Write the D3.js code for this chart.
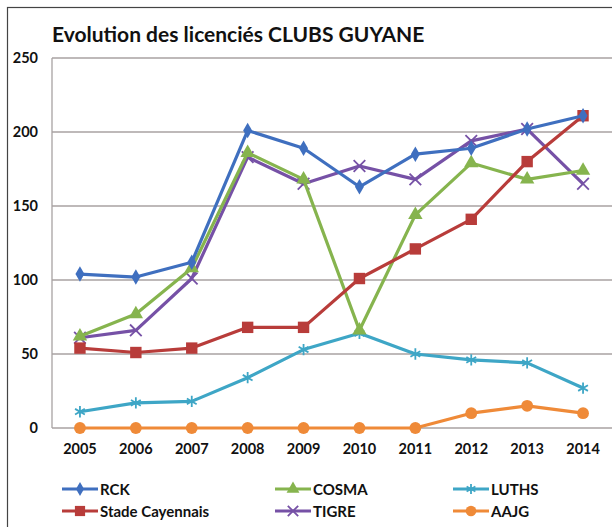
<!DOCTYPE html>
<html>
<head>
<meta charset="utf-8">
<script src="https://cdn.jsdelivr.net/npm/d3@7"></script>
<style>
  body { margin: 0; background: #fff; }
  svg { display: block; font-family: Lato, "Open Sans", sans-serif; }
</style>
</head>
<body>
<div id="chart"></div>
<script>
// data
const years = ["2005","2006","2007","2008","2009","2010","2011","2012","2013","2014"];
const rck     = [104, 102, 112, 201, 189, 163, 185, 189, 202, 211];
const stade   = [54, 51, 54, 68, 68, 101, 121, 141, 180, 211];
const cosma   = [62, 77, 108, 186, 168, 66, 144, 179, 168, 174];
const tigre   = [61, 66, 101, 183, 165, 177, 168, 194, 202, 165];
const luths   = [11, 17, 18, 34, 53, 64, 50, 46, 44, 27];
const aajg    = [0, 0, 0, 0, 0, 0, 0, 10, 15, 10];
const yTicks  = [0, 50, 100, 150, 200, 250];

const series = [
  {name: "RCK", values: rck, color: "#3f6fbf", symbol: "diamond"},
  {name: "Stade Cayennais", values: stade, color: "#b83c3a", symbol: "square"},
  {name: "COSMA", values: cosma, color: "#86b44e", symbol: "triangle"},
  {name: "TIGRE", values: tigre, color: "#7651a6", symbol: "x"},
  {name: "LUTHS", values: luths, color: "#3ea6c6", symbol: "star"},
  {name: "AAJG", values: aajg, color: "#ef8a38", symbol: "circle"}
];
// legend order (3 columns, 2 rows)
const legendOrder = ["RCK", "Stade Cayennais", "COSMA", "TIGRE", "LUTHS", "AAJG"];

const W = 612, H = 527;
const plot = {left: 52, right: 611, top: 58, bottom: 428};

const svg = d3.select("#chart").append("svg")
  .attr("width", W).attr("height", H);

// outer frame
svg.append("rect")
  .attr("x", 7.5).attr("y", 7.5)
  .attr("width", W + 20).attr("height", H + 20)
  .attr("fill", "#fff").attr("stroke", "#444").attr("stroke-width", 1.2);

svg.append("text")
  .attr("x", 52).attr("y", 42)
  .attr("font-size", 21).attr("font-weight", 700).attr("fill", "#111")
  .text("Evolution des licenciés CLUBS GUYANE");

const x = d3.scalePoint().domain(years).range([plot.left, plot.right]).padding(0.5);
const y = d3.scaleLinear().domain([0, 250]).range([plot.bottom, plot.top]);

// gridlines
svg.append("g")
  .selectAll("line")
  .data(yTicks)
  .join("line")
  .attr("x1", plot.left).attr("x2", W)
  .attr("y1", d => y(d)).attr("y2", d => y(d))
  .attr("stroke", "#a8a2a2").attr("stroke-width", 1.3);

// y axis line
svg.append("line")
  .attr("x1", plot.left).attr("x2", plot.left)
  .attr("y1", plot.top).attr("y2", plot.bottom)
  .attr("stroke", "#a8a2a2").attr("stroke-width", 1.3);

// y tick labels
svg.append("g")
  .selectAll("text")
  .data(yTicks)
  .join("text")
  .attr("x", 38).attr("y", d => y(d) + 5)
  .attr("text-anchor", "end")
  .attr("font-size", 14.5).attr("font-weight", 700).attr("fill", "#111")
  .text(d => d);

// x tick labels
svg.append("g")
  .selectAll("text")
  .data(years)
  .join("text")
  .attr("x", d => x(d)).attr("y", 454)
  .attr("text-anchor", "middle")
  .attr("font-size", 14.5).attr("font-weight", 700).attr("fill", "#111")
  .text(d => d);

function drawMarker(g, symbol, color, cx, cy, s) {
  s = s || 1;
  if (symbol === "diamond") {
    g.append("path").attr("d", d3.symbol(d3.symbolDiamond, 70 * s)())
      .attr("transform", `translate(${cx},${cy})`).attr("fill", color);
  } else if (symbol === "square") {
    g.append("path").attr("d", d3.symbol(d3.symbolSquare, 130 * s)())
      .attr("transform", `translate(${cx},${cy})`).attr("fill", color);
  } else if (symbol === "triangle") {
    g.append("path").attr("d", d3.symbol(d3.symbolTriangle, 90 * s)())
      .attr("transform", `translate(${cx},${cy})`).attr("fill", color);
  } else if (symbol === "circle") {
    g.append("path").attr("d", d3.symbol(d3.symbolCircle, 110 * s)())
      .attr("transform", `translate(${cx},${cy})`).attr("fill", color);
  } else if (symbol === "x") {
    g.append("path").attr("d", d3.symbol(d3.symbolX, 90 * s)())
      .attr("transform", `translate(${cx},${cy})`)
      .attr("fill", "none").attr("stroke", color).attr("stroke-width", 1.8);
  } else if (symbol === "star") {
    g.append("path").attr("d", d3.symbol(d3.symbolAsterisk, 90 * s)())
      .attr("transform", `translate(${cx},${cy})`)
      .attr("fill", "none").attr("stroke", color).attr("stroke-width", 1.8);
  }
}

const line = d3.line().x((d, i) => x(years[i])).y(d => y(d));

// draw in reverse so RCK is on top
series.slice().reverse().forEach(s => {
  const g = svg.append("g");
  g.append("path")
    .attr("d", line(s.values))
    .attr("fill", "none").attr("stroke", s.color)
    .attr("stroke-width", 3.2).attr("stroke-linejoin", "round");
  s.values.forEach((v, i) => drawMarker(g, s.symbol, s.color, x(years[i]), y(v)));
});

// legend
const legX = [62, 275, 453];
const legY = [489, 511];
const leg = svg.append("g");
legendOrder.forEach((name, k) => {
  const s = series.find(d => d.name === name);
  const lx = legX[Math.floor(k / 2)], ly = legY[k % 2];
  leg.append("line")
    .attr("x1", lx).attr("x2", lx + 36).attr("y1", ly).attr("y2", ly)
    .attr("stroke", s.color).attr("stroke-width", 3.2);
  drawMarker(leg, s.symbol, s.color, lx + 18, ly, 0.8);
  leg.append("text")
    .attr("x", lx + 38).attr("y", ly + 5.5)
    .attr("font-size", 15).attr("font-weight", 700).attr("fill", "#111")
    .text(name);
});
</script>
</body>
</html>
